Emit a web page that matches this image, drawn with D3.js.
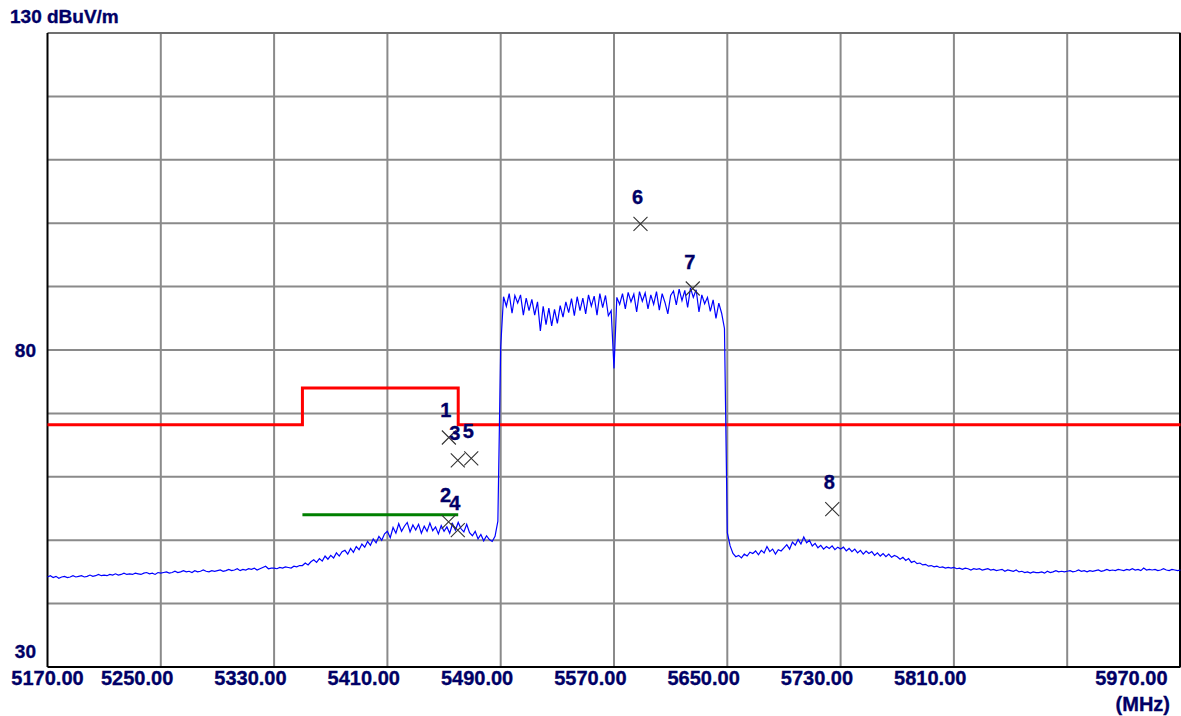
<!DOCTYPE html>
<html>
<head>
<meta charset="utf-8">
<script src="https://cdn.jsdelivr.net/npm/d3@7"></script>
<style>
  html, body { margin: 0; padding: 0; background: #ffffff; }
  svg { display: block; }
  text { font-family: "Liberation Sans", Arial, sans-serif; font-weight: bold; fill: #000066; stroke: #000066; stroke-width: 0.35px; }
</style>
</head>
<body>
<svg id="chart" width="1181" height="716"></svg>
<script>
// ---------------- data ----------------
const yUnitLabel = "130 dBuV/m";
const xUnitLabel = "(MHz)";
const yTickValues = [80, 30];
const xGridValues = [5170, 5250, 5330, 5410, 5490, 5570, 5650, 5730, 5810, 5890, 5970];
const xLabelValues = [5170, 5250, 5330, 5410, 5490, 5570, 5650, 5730, 5810, 5970];
const yGridValues = [40, 50, 60, 70, 80, 90, 100, 110, 120];

// measured trace (dBuV/m), one reading every 2 MHz from 5170 MHz
const traceStartMHz = 5170;
const traceStepMHz = 2;
const traceLevels = [
  44.2, 44.4, 44.1, 44.3, 44.0, 44.2, 44.3, 44.1, 44.2, 44.4,
  44.2, 44.3, 44.4, 44.2, 44.3, 44.5, 44.3, 44.4, 44.6, 44.4,
  44.5, 44.4, 44.6, 44.5, 44.7, 44.5, 44.6, 44.8, 44.6, 44.7,
  44.6, 44.8, 44.7, 44.6, 44.8, 44.9, 44.7, 44.8, 44.6, 44.9,
  44.8, 44.9, 45.0, 44.8, 44.9, 45.1, 44.9, 45.0, 45.2, 45.0,
  45.1, 44.9, 45.2, 45.0, 45.1, 45.3, 45.1, 45.0, 45.2, 45.1,
  45.2, 45.3, 45.1, 45.2, 45.4, 45.2, 45.3, 45.5, 45.2, 45.4,
  45.3, 45.5, 45.4, 45.6, 45.3, 45.5, 45.7, 45.9, 45.5, 45.6,
  45.6, 45.5, 45.7, 45.6, 45.8, 45.7, 45.6, 45.9, 45.8, 46.0,
  46.0, 46.4, 46.1, 46.6, 46.9, 46.5, 47.1, 46.7, 47.5, 47.0,
  47.6, 47.2, 48.0, 47.5, 48.2, 48.4, 47.8, 48.7, 48.1, 49.0,
  48.5, 49.4, 48.9, 49.8, 49.2, 50.2, 49.6, 50.6, 50.0, 51.0,
  51.4, 50.4, 52.0, 51.1, 52.6, 51.4, 52.2, 52.8, 51.3, 52.4,
  51.6, 52.5, 51.1, 52.2, 51.4, 52.7, 51.5, 52.1, 51.0, 52.3,
  51.4, 52.1, 51.1, 52.6, 51.6, 52.8, 51.8, 51.3, 52.5, 51.2,
  50.7, 51.4, 50.2, 50.9, 49.9, 50.7, 50.1, 49.8, 50.6, 53.0,
  80.5, 88.4, 86.9, 88.9, 85.8, 88.6, 87.4, 88.7, 85.5, 88.2,
  86.2, 88.0, 85.5, 87.6, 83.0, 86.9, 84.0, 86.6, 83.8, 86.4,
  84.2, 87.0, 85.2, 87.6, 85.9, 88.1, 85.4, 88.4, 86.2, 88.2,
  85.7, 88.7, 86.9, 88.5, 85.5, 88.9, 86.7, 88.6, 85.4, 86.2,
  77.1, 88.3, 87.2, 88.9, 86.5, 89.1, 87.6, 88.8, 86.0, 89.2,
  87.7, 89.0, 86.5, 88.7, 87.2, 89.2, 86.3, 88.9, 87.5, 85.7,
  88.6, 89.3, 87.1, 89.6, 87.8, 89.4, 86.7, 89.8, 88.3, 89.5,
  86.0, 88.7, 87.3, 88.3, 86.1, 87.9, 85.0, 87.4, 85.8, 83.4,
  51.2, 49.1, 47.9, 47.4, 47.6, 47.2, 47.8, 47.5, 48.1, 47.9,
  48.3, 47.7, 48.4, 48.0, 49.0, 48.2, 48.6, 47.8, 48.5, 48.3,
  48.8, 49.3, 48.6, 49.7, 49.2, 50.1, 49.4, 50.5, 49.6, 50.0,
  49.1, 49.5, 48.8, 49.2, 48.6, 49.0, 48.7, 49.1, 48.5, 48.9,
  48.6, 48.9, 48.3, 48.7, 48.2, 48.6, 48.0, 48.4, 47.8, 48.3,
  47.9, 48.2, 47.6, 48.0, 47.5, 47.9, 47.4, 47.8, 47.3, 47.6,
  47.4, 47.0, 47.3, 46.8, 47.1, 46.5, 46.7, 46.3, 46.4, 46.1,
  46.2, 45.9, 46.0, 45.8, 45.9, 45.7, 45.8, 45.6, 45.7, 45.6,
  45.7, 45.5, 45.6, 45.4, 45.6, 45.5, 45.3, 45.5, 45.4, 45.5,
  45.3, 45.4, 45.5, 45.3, 45.4, 45.2, 45.3, 45.4, 45.1, 45.3,
  45.2, 45.1, 45.3, 45.0, 45.1, 44.9, 45.0, 44.8, 45.0, 44.9,
  44.9, 45.0, 44.8, 45.1, 44.9, 45.0, 45.2, 45.0, 45.1, 45.0,
  45.1, 45.2, 45.0, 45.1, 45.3, 45.1, 45.2, 45.0, 45.2, 45.1,
  45.2, 45.3, 45.1, 45.2, 45.4, 45.2, 45.3, 45.2, 45.4, 45.3,
  45.2, 45.4, 45.3, 45.5, 45.3, 45.4, 45.2, 45.6, 45.3, 45.4,
  45.3, 45.4, 45.2, 45.3, 45.5, 45.3, 45.2, 45.4, 45.3, 45.2,
  45.3
];

// red limit line (step)
const limitFreqs  = [5170, 5350, 5350, 5460, 5460, 5970];
const limitLevels = [68.2, 68.2, 74.0, 74.0, 68.2, 68.2];
// green average limit
const avgLimitFreqs  = [5350, 5460];
const avgLimitLevels = [54.0, 54.0];

// markers
const markerIds    = ["1", "2", "3", "4", "5", "6", "7", "8"];
const markerFreqs  = [5453.4, 5453.2, 5459.7, 5459.7, 5469.2, 5588.7, 5625.6, 5724.1];
const markerLevels = [66.2, 52.9, 62.6, 51.6, 62.9, 99.9, 89.7, 54.9];

// ---------------- drawing ----------------
(function () {
const svg = d3.select("#chart");
const pL = 47.5, pR = 1180.5, pT = 33, pB = 667;

const x = d3.scaleLinear().domain([5170, 5970]).range([pL, pR]);
const y = d3.scaleLinear().domain([30, 130]).range([pB, pT]);

// grid
const grid = svg.append("g");
grid.selectAll("line.v").data(xGridValues.slice(1, -1)).join("line")
  .attr("x1", d => x(d)).attr("x2", d => x(d))
  .attr("y1", pT).attr("y2", pB)
  .attr("stroke", "#8a8a8a").attr("stroke-width", 2);
grid.selectAll("line.h").data(yGridValues).join("line")
  .attr("x1", pL).attr("x2", pR)
  .attr("y1", d => y(d)).attr("y2", d => y(d))
  .attr("stroke", "#8a8a8a").attr("stroke-width", 2);

// frame
svg.append("line").attr("x1", pL).attr("x2", pR).attr("y1", pT).attr("y2", pT)
  .attr("stroke", "#707070").attr("stroke-width", 2);
svg.append("line").attr("x1", pL).attr("x2", pL).attr("y1", pT).attr("y2", pB)
  .attr("stroke", "#000").attr("stroke-width", 2);
svg.append("line").attr("x1", pR - 0.5).attr("x2", pR - 0.5).attr("y1", pT).attr("y2", pB)
  .attr("stroke", "#000").attr("stroke-width", 2);
svg.append("line").attr("x1", pL).attr("x2", pR).attr("y1", pB).attr("y2", pB)
  .attr("stroke", "#000").attr("stroke-width", 2);

const line = d3.line().x(d => x(d[0])).y(d => y(d[1]));

// limit lines
svg.append("path")
  .datum(limitFreqs.map((f, i) => [f, limitLevels[i]]))
  .attr("d", line).attr("fill", "none").attr("stroke", "#ff0000").attr("stroke-width", 3);
svg.append("path")
  .datum(avgLimitFreqs.map((f, i) => [f, avgLimitLevels[i]]))
  .attr("d", line).attr("fill", "none").attr("stroke", "#008000").attr("stroke-width", 3);

// trace
svg.append("path")
  .datum(traceLevels.map((v, i) => [traceStartMHz + i * traceStepMHz, v]))
  .attr("d", line).attr("fill", "none").attr("stroke", "#0000ff").attr("stroke-width", 1.2);

// markers
const mk = svg.append("g").selectAll("g").data(markerIds).join("g")
  .attr("transform", (d, i) => `translate(${x(markerFreqs[i])},${y(markerLevels[i])})`);
mk.append("path").attr("d", "M-7,-7L7,7M-7,7L7,-7")
  .attr("stroke", "#333333").attr("stroke-width", 1.1).attr("fill", "none");
mk.append("text").text(d => d)
  .attr("x", -3).attr("y", -20).attr("text-anchor", "middle")
  .style("font-size", "20px");

// y labels
svg.append("text").text(yUnitLabel).attr("x", 10).attr("y", 23).style("font-size", "19px");
svg.selectAll("text.yt").data(yTickValues).join("text")
  .attr("x", 36).attr("y", d => d === 30 ? 658 : y(d) + 6.5)
  .attr("text-anchor", "end").style("font-size", "19px")
  .text(d => d);

// x labels
svg.selectAll("text.xt").data(xLabelValues).join("text")
  .attr("x", (d, i) => i === 0 ? x(d) : (d === 5970 ? x(d) - 13 : x(d) + 12.5))
  .attr("y", 685)
  .attr("text-anchor", (d, i) => i === 0 ? "middle" : "end")
  .style("font-size", "20px")
  .text(d => d.toFixed(2));
svg.append("text").text(xUnitLabel).attr("x", 1170).attr("y", 711)
  .attr("text-anchor", "end").style("font-size", "20px");
})();
</script>
</body>
</html>
